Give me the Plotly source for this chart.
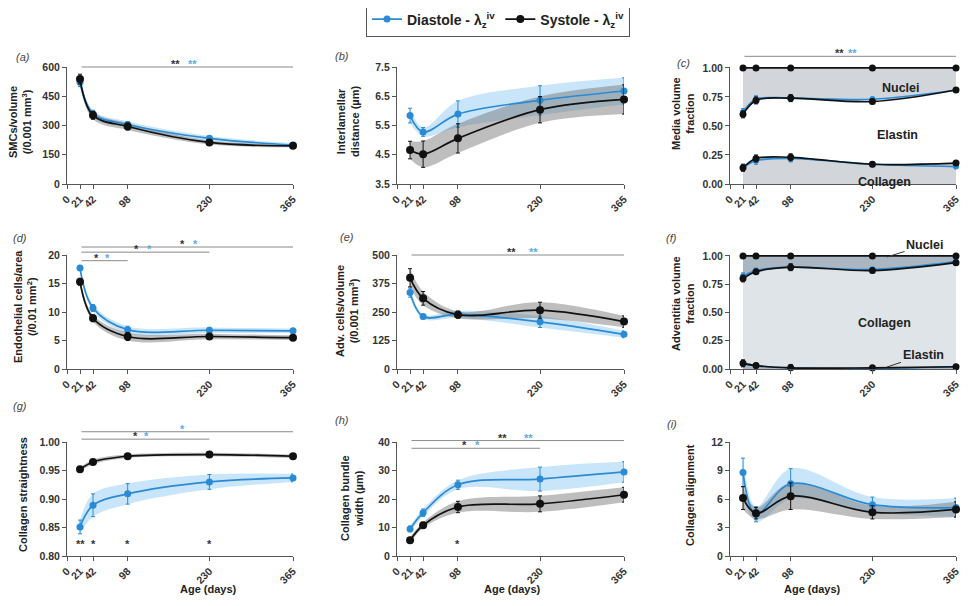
import plotly.graph_objects as go

AGE = [21, 42, 98, 230, 365]
XTICKS = [0, 21, 42, 98, 230, 365]

# (a) SMCs/volume (/0.001 mm^3)
A_DIA = [522, 360, 305, 234, 200]
A_DIA_SD = [22, 18, 15, 12, 10]
A_SYS = [538, 352, 295, 213, 196]
A_SYS_SD = [25, 20, 18, 10, 8]

# (b) Interlamellar distance (um)
B_DIA = [5.84, 5.28, 5.89, 6.36, 6.68]
B_DIA_SD = [0.25, 0.15, 0.45, 0.5, 0.45]
B_SYS = [4.66, 4.52, 5.06, 6.04, 6.39]
B_SYS_SD = [0.3, 0.45, 0.5, 0.45, 0.5]

# (c) Media volume fraction (cumulative boundaries)
C_DIA_COL = [0.14, 0.20, 0.22, 0.17, 0.15]
C_DIA_ELA = [0.62, 0.73, 0.74, 0.73, 0.81]
C_SYS_COL = [0.14, 0.22, 0.23, 0.17, 0.18]
C_SYS_ELA = [0.60, 0.72, 0.74, 0.71, 0.81]
C_TOTAL = [1.0, 1.0, 1.0, 1.0, 1.0]
C_ERR = [0.03, 0.03, 0.03, 0.02, 0.02]

# (d) Endothelial cells/area (/0.01 mm^2)
D_DIA = [17.7, 10.7, 6.9, 6.8, 6.7]
D_DIA_SD = [0.4, 0.6, 0.6, 0.5, 0.4]
D_SYS = [15.3, 8.9, 5.7, 5.7, 5.5]
D_SYS_SD = [0.6, 0.6, 0.7, 0.5, 0.4]

# (e) Adv. cells/volume (/0.001 mm^3)
E_DIA = [335, 230, 240, 207, 152]
E_DIA_SD = [20, 10, 15, 25, 15]
E_SYS = [400, 310, 238, 258, 208]
E_SYS_SD = [40, 30, 15, 35, 25]

# (f) Adventitia volume fraction (cumulative boundaries)
F_DIA_ELA = [0.05, 0.03, 0.01, 0.005, 0.02]
F_DIA_COL = [0.82, 0.87, 0.90, 0.88, 0.95]
F_SYS_ELA = [0.05, 0.03, 0.01, 0.01, 0.02]
F_SYS_COL = [0.80, 0.86, 0.90, 0.87, 0.94]
F_TOTAL = [1.0, 1.0, 1.0, 1.0, 1.0]
F_ERR = [0.03, 0.02, 0.03, 0.02, 0.01]

# (g) Collagen straightness
G_DIA = [0.851, 0.889, 0.909, 0.930, 0.937]
G_DIA_SD = [0.012, 0.02, 0.018, 0.013, 0.007]
G_SYS = [0.952, 0.965, 0.975, 0.978, 0.975]
G_SYS_SD = [0.003, 0.004, 0.003, 0.003, 0.003]

# (h) Collagen bundle width (um)
H_DIA = [9.5, 15.2, 25.0, 27.0, 29.5]
H_DIA_SD = [1.0, 1.3, 1.6, 4.2, 3.6]
H_SYS = [5.5, 10.8, 17.2, 18.3, 21.5]
H_SYS_SD = [1.0, 1.0, 2.0, 2.8, 2.6]

# (i) Collagen alignment
I_DIA = [8.8, 4.4, 7.6, 5.4, 5.1]
I_DIA_SD = [1.5, 0.8, 1.6, 0.8, 1.0]
I_SYS = [6.1, 4.5, 6.3, 4.6, 4.9]
I_SYS_SD = [1.2, 0.6, 1.4, 0.7, 0.8]

# y ranges and ticks per panel
Y_RANGES = [[0, 600], [3.5, 7.5], [0, 1.008], [0, 20], [0, 500], [0, 1.008], [0.8, 1.0], [0, 40], [0, 12]]
Y_TICKS = [[0, 150, 300, 450, 600], [3.5, 4.5, 5.5, 6.5, 7.5], [0, 0.25, 0.5, 0.75, 1.0],
           [0, 5, 10, 15, 20], [0, 125, 250, 375, 500], [0, 0.25, 0.5, 0.75, 1.0],
           [0.8, 0.85, 0.9, 0.95, 1.0], [0, 10, 20, 30, 40], [0, 3, 6, 9, 12]]
Y_FORMATS = [None, ".1f", ".2f", None, None, ".2f", ".2f", None, None]

BLUE = "#2a8ad4"
BLACK = "#111111"
BLUE_BAND = "rgba(120,190,240,0.40)"
GRAY_BAND = "rgba(110,110,110,0.45)"
SIG = "#8a8a8a"
STAR_BLACK = "#333333"
STAR_BLUE = "#5aaae6"
FONT = "Liberation Sans, Arial, sans-serif"

# page body adds an 8px offset; the figure is sized to fit the window
OFF = 8
W, H = 962, 598
COLS = [(67, 293), (397, 624), (730, 956)]
ROWS = [(67, 184), (255, 369), (442, 556)]


def px(v):
    return (v - OFF) / W


def py(v):
    return 1 - (v - OFF) / H


fig = go.Figure()
annotations = []


def refs(k):
    return ("x" if k == 0 else f"x{k+1}"), ("y" if k == 0 else f"y{k+1}")


def dom(k, y):
    lo, hi = Y_RANGES[k]
    return (y - lo) / (hi - lo)


def band(k, mean, sd, fillcolor):
    xr, yr = refs(k)
    lo = [m - s for m, s in zip(mean, sd)]
    hi = [m + s for m, s in zip(mean, sd)]
    fig.add_trace(go.Scatter(x=AGE, y=lo, mode="lines", line=dict(width=0, shape="spline"),
                             fill="none", xaxis=xr, yaxis=yr, showlegend=False, hoverinfo="skip"))
    fig.add_trace(go.Scatter(x=AGE, y=hi, mode="lines", line=dict(width=0, shape="spline"),
                             fill="tonexty", fillcolor=fillcolor,
                             xaxis=xr, yaxis=yr, showlegend=False, hoverinfo="skip"))


def series(k, mean, sd, color, msize, name=None, legend=False):
    xr, yr = refs(k)
    fig.add_trace(go.Scatter(
        x=AGE, y=mean, mode="lines+markers", name=name, showlegend=legend,
        line=dict(color=color, width=1.7, shape="spline"),
        marker=dict(color=color, size=msize),
        error_y=dict(type="data", array=sd, color=color, thickness=1, width=2),
        xaxis=xr, yaxis=yr, cliponaxis=False))


def fill_area(k, y, fill, fillcolor):
    xr, yr = refs(k)
    fig.add_trace(go.Scatter(x=AGE, y=y, mode="lines", line=dict(width=0, shape="spline"),
                             fill=fill, fillcolor=fillcolor, xaxis=xr, yaxis=yr,
                             showlegend=False, hoverinfo="skip"))


def sig_line(k, x0, x1, y):
    xr, yr = refs(k)
    d = dom(k, y)
    annotations.append(dict(x=x1, y=d, ax=x0, ay=d, xref=xr, yref=yr + " domain", axref=xr,
                            ayref=yr + " domain", showarrow=True, arrowhead=0, arrowwidth=1,
                            arrowcolor=SIG, text="", standoff=0, startstandoff=0))


def star(k, x, y, txt, color):
    xr, yr = refs(k)
    annotations.append(dict(x=x, y=dom(k, y), xref=xr, yref=yr + " domain", text=f"<b>{txt}</b>",
                            showarrow=False, font=dict(size=11, color=color, family=FONT),
                            yanchor="bottom", yshift=-5))


DIA_NAME = "Diastole - λ<sub>z</sub><sup>iv</sup>"
SYS_NAME = "Systole - λ<sub>z</sub><sup>iv</sup>"

# (a)
band(0, A_DIA, A_DIA_SD, BLUE_BAND)
band(0, A_SYS, A_SYS_SD, GRAY_BAND)
series(0, A_DIA, A_DIA_SD, BLUE, 7, DIA_NAME, True)
series(0, A_SYS, A_SYS_SD, BLACK, 8, SYS_NAME, True)
sig_line(0, 21, 365, 600)
star(0, 176, 600, "**", STAR_BLACK)
star(0, 203, 600, "**", STAR_BLUE)

# (b)
band(1, B_DIA, B_DIA_SD, BLUE_BAND)
band(1, B_SYS, B_SYS_SD, GRAY_BAND)
series(1, B_DIA, B_DIA_SD, BLUE, 7)
series(1, B_SYS, B_SYS_SD, BLACK, 8)

# (c)
C_FILL = "#d2d6db"
fill_area(2, C_SYS_COL, "tozeroy", C_FILL)
fill_area(2, C_SYS_ELA, "none", "rgba(0,0,0,0)")
fill_area(2, C_TOTAL, "tonexty", C_FILL)
series(2, C_DIA_COL, C_ERR, BLUE, 6)
series(2, C_DIA_ELA, C_ERR, BLUE, 6)
series(2, C_SYS_COL, C_ERR, BLACK, 7)
series(2, C_SYS_ELA, C_ERR, BLACK, 7)
series(2, C_TOTAL, [0, 0, 0, 0, 0], BLACK, 7)
sig_line(2, 21, 365, 1.10)
star(2, 177, 1.10, "**", STAR_BLACK)
star(2, 198, 1.10, "**", STAR_BLUE)

# (d)
band(3, D_DIA, D_DIA_SD, BLUE_BAND)
band(3, D_SYS, D_SYS_SD, GRAY_BAND)
series(3, D_DIA, D_DIA_SD, BLUE, 7)
series(3, D_SYS, D_SYS_SD, BLACK, 8)
sig_line(3, 21, 365, 21.4)
star(3, 186, 21.4, "*", STAR_BLACK)
star(3, 207, 21.4, "*", STAR_BLUE)
sig_line(3, 21, 230, 20.5)
star(3, 113, 20.5, "*", STAR_BLACK)
star(3, 134, 20.5, "*", STAR_BLUE)
sig_line(3, 21, 98, 19.0)
star(3, 48, 19.0, "*", STAR_BLACK)
star(3, 66, 19.0, "*", STAR_BLUE)

# (e)
band(4, E_DIA, E_DIA_SD, BLUE_BAND)
band(4, E_SYS, E_SYS_SD, GRAY_BAND)
series(4, E_DIA, E_DIA_SD, BLUE, 7)
series(4, E_SYS, E_SYS_SD, BLACK, 8)
sig_line(4, 21, 365, 500)
star(4, 184, 500, "**", STAR_BLACK)
star(4, 219, 500, "**", STAR_BLUE)

# (f)
F_DARK = "#aab6c1"
F_LIGHT = "#dfe4e9"
fill_area(5, F_SYS_ELA, "tozeroy", F_DARK)
fill_area(5, F_SYS_COL, "tonexty", F_LIGHT)
fill_area(5, F_TOTAL, "tonexty", F_DARK)
series(5, F_DIA_ELA, F_ERR, BLUE, 6)
series(5, F_DIA_COL, F_ERR, BLUE, 6)
series(5, F_SYS_ELA, F_ERR, BLACK, 7)
series(5, F_SYS_COL, F_ERR, BLACK, 7)
series(5, F_TOTAL, [0, 0, 0, 0, 0], BLACK, 7)

# (g)
band(6, G_DIA, G_DIA_SD, BLUE_BAND)
band(6, G_SYS, G_SYS_SD, GRAY_BAND)
series(6, G_DIA, G_DIA_SD, BLUE, 7)
series(6, G_SYS, G_SYS_SD, BLACK, 8)
sig_line(6, 21, 365, 1.018)
star(6, 186, 1.018, "*", STAR_BLUE)
sig_line(6, 21, 230, 1.005)
star(6, 110, 1.005, "*", STAR_BLACK)
star(6, 129, 1.005, "*", STAR_BLUE)
for xv, t in [(21, "**"), (42, "*"), (98, "*"), (230, "*")]:
    star(6, xv, 0.816, t, STAR_BLACK)

# (h)
band(7, H_DIA, H_DIA_SD, BLUE_BAND)
band(7, H_SYS, H_SYS_SD, GRAY_BAND)
series(7, H_DIA, H_DIA_SD, BLUE, 7)
series(7, H_SYS, H_SYS_SD, BLACK, 8)
sig_line(7, 21, 365, 40.5)
star(7, 170, 40.5, "**", STAR_BLACK)
star(7, 211, 40.5, "**", STAR_BLUE)
sig_line(7, 21, 230, 37.8)
star(7, 109, 37.8, "*", STAR_BLACK)
star(7, 130, 37.8, "*", STAR_BLUE)
star(7, 98, 3.0, "*", STAR_BLACK)

# (i)
band(8, I_DIA, I_DIA_SD, BLUE_BAND)
band(8, I_SYS, I_SYS_SD, GRAY_BAND)
series(8, I_DIA, I_DIA_SD, BLUE, 7)
series(8, I_SYS, I_SYS_SD, BLACK, 8)

TICKFONT = dict(family=FONT, size=10.5, color="#333333", weight="bold")
layout = {}
for k in range(9):
    r, c = divmod(k, 3)
    x0, x1 = COLS[c]
    y0, y1 = ROWS[r]
    xk = "xaxis" if k == 0 else f"xaxis{k+1}"
    yk = "yaxis" if k == 0 else f"yaxis{k+1}"
    xr, yr = refs(k)
    layout[xk] = dict(domain=[px(x0), px(x1)], anchor=yr, range=[0, 365], automargin=False,
                      tickmode="array", tickvals=XTICKS, ticktext=[str(v) for v in XTICKS],
                      tickangle=-45, ticks="outside", ticklen=4, tickwidth=1, tickcolor="#555",
                      showline=True, linecolor="#555", linewidth=1, showgrid=False, zeroline=False,
                      tickfont=TICKFONT)
    yd = dict(domain=[py(y1), py(y0)], anchor=xr, range=Y_RANGES[k], automargin=False,
              tickmode="array", tickvals=Y_TICKS[k],
              ticks="outside", ticklen=4, tickwidth=1, tickcolor="#555",
              showline=True, linecolor="#555", linewidth=1, showgrid=False, zeroline=False,
              tickfont=TICKFONT)
    if Y_FORMATS[k]:
        yd["tickformat"] = Y_FORMATS[k]
    layout[yk] = yd

# y-axis titles
YTITLES = [
    ("SMCs/volume<br>(/0.001 mm<sup>3</sup>)", 20, 122),
    ("Interlamellar<br>distance (µm)", 348, 122),
    ("Media volume<br>fraction", 683, 114),
    ("Endothelial cells/area<br>(/0.01 mm<sup>2</sup>)", 25, 307),
    ("Adv. cells/volume<br>(/0.001 mm<sup>3</sup>)", 347, 311),
    ("Adventitia volume<br>fraction", 683, 304),
    ("Collagen straightness", 23, 495),
    ("Collagen bundle<br>width (µm)", 352, 498),
    ("Collagen alignment", 690, 495),
]
for t, xp, yp in YTITLES:
    annotations.append(dict(text=f"<b>{t}</b>", x=px(xp), y=py(yp), xref="paper", yref="paper",
                            showarrow=False, textangle=-90, xanchor="center", yanchor="middle",
                            font=dict(family=FONT, size=11, color="#222")))

# panel labels
PLABELS = [("(a)", 14, 49), ("(b)", 342, 48), ("(c)", 692, 55), ("(d)", 11, 238),
           ("(e)", 347, 237), ("(f)", 679, 238), ("(g)", 11, 414), ("(h)", 342, 428), ("(i)", 679, 432)]
for t, xp, yp in PLABELS:
    annotations.append(dict(text=f"<i>{t}</i>", x=px(xp), y=py(yp), xref="paper", yref="paper",
                            showarrow=False, font=dict(family=FONT, size=11, color="#444")))

# x titles
for xp in [178, 512, 843]:
    annotations.append(dict(text="<b>Age (days)</b>", x=px(xp), y=py(597), xref="paper", yref="paper",
                            showarrow=False, font=dict(family=FONT, size=11, color="#222")))

# region labels
LAB_FONT = dict(family=FONT, size=12.5, color="#222")
for t, xp, yp in [("Nuclei", 922, 79), ("Elastin", 920, 126), ("Collagen", 913, 173), ("Collagen", 913, 323)]:
    annotations.append(dict(text=f"<b>{t}</b>", x=px(xp), y=py(yp), xref="paper", yref="paper",
                            showarrow=False, font=LAB_FONT))
# labels with leader lines in (f)
annotations.append(dict(text="<b>Nuclei</b>", x=px(887), y=py(257), ax=38, ay=-12,
                        xref="paper", yref="paper", axref="pixel", ayref="pixel", showarrow=True,
                        arrowhead=0, arrowwidth=1, arrowcolor="#333", font=LAB_FONT, standoff=0))
annotations.append(dict(text="<b>Elastin</b>", x=px(887), y=py(367), ax=36, ay=-12,
                        xref="paper", yref="paper", axref="pixel", ayref="pixel", showarrow=True,
                        arrowhead=0, arrowwidth=1, arrowcolor="#333", font=LAB_FONT, standoff=0))

fig.update_layout(
    **layout,
    width=W, height=H, autosize=False,
    margin=dict(l=0, r=0, t=0, b=0, autoexpand=False),
    paper_bgcolor="white", plot_bgcolor="rgba(0,0,0,0)",
    font=dict(family=FONT, size=11, color="#222"),
    annotations=annotations,
    showlegend=True,
    legend=dict(orientation="h", x=px(498), xanchor="center", y=py(19.5), yanchor="middle",
                bordercolor="#555", borderwidth=1, bgcolor="white", traceorder="normal",
                font=dict(family=FONT, size=14, color="#222", weight="bold"),
                itemwidth=30, tracegroupgap=0),
)

fig.write_html("out.html")
